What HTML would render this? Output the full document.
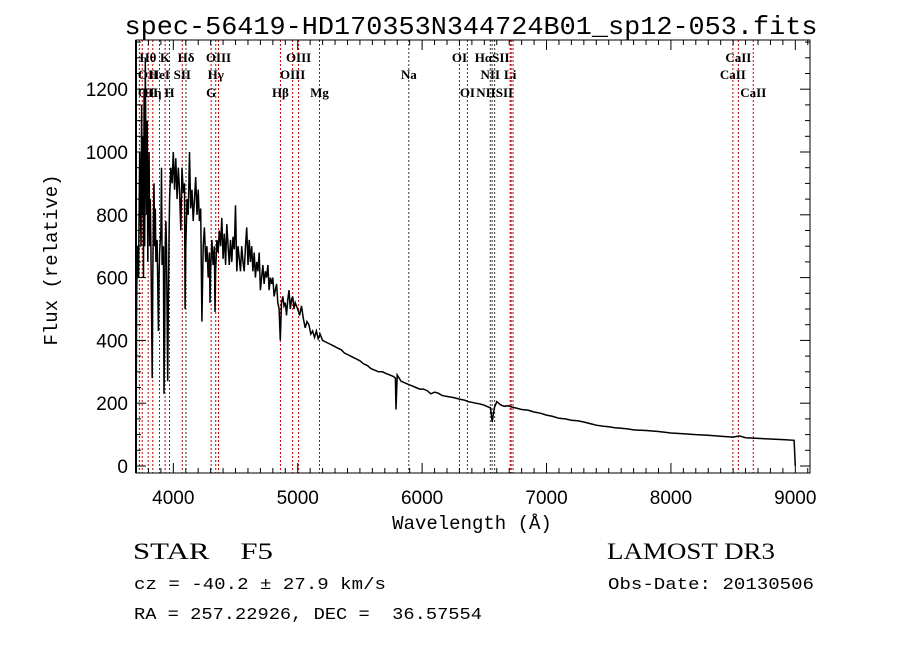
<!DOCTYPE html>
<html><head><meta charset="utf-8"><style>
html,body{margin:0;padding:0;background:#fff;width:900px;height:649px;overflow:hidden}
svg{display:block}
</style></head><body>
<svg id="chart" width="900" height="649" xmlns="http://www.w3.org/2000/svg">
<text x="471" y="34" text-anchor="middle" font-family="Liberation Mono, monospace" font-size="26" textLength="693" lengthAdjust="spacingAndGlyphs">spec-56419-HD170353N344724B01_sp12-053.fits</text>
<g id="lines"></g>
<g id="labels"></g>
<g id="spec"></g>
<g id="axes"></g>
<text x="472" y="529" text-anchor="middle" font-family="Liberation Mono, monospace" font-size="19">Wavelength (Å)</text>
<text transform="translate(57,260) rotate(-90)" text-anchor="middle" font-family="Liberation Mono, monospace" font-size="19">Flux (relative)</text>
<text x="133" y="559" font-family="Liberation Serif, serif" font-size="23" xml:space="preserve" textLength="140" lengthAdjust="spacingAndGlyphs">STAR    F5</text>
<text x="134" y="589" font-family="Liberation Mono, monospace" font-size="17" textLength="252" lengthAdjust="spacingAndGlyphs">cz = -40.2 ± 27.9 km/s</text>
<text x="134" y="619" font-family="Liberation Mono, monospace" font-size="17" xml:space="preserve" textLength="348" lengthAdjust="spacingAndGlyphs">RA = 257.22926, DEC =  36.57554</text>
<text x="607" y="559" font-family="Liberation Serif, serif" font-size="23" textLength="168" lengthAdjust="spacingAndGlyphs">LAMOST DR3</text>
<text x="608" y="589" font-family="Liberation Mono, monospace" font-size="17" textLength="206" lengthAdjust="spacingAndGlyphs">Obs-Date: 20130506</text>
</svg>
<script>
const waves=[
3700,3705,3710,3720,3730,3740,3745,3750,3755,3760,
3765,3770,3775,3780,3785,3790,3795,3800,3805,3810,
3815,3820,3830,3835,3840,3845,3850,3855,3860,3870,
3880,3885,3890,3900,3905,3910,3920,3925,3930,3935,
3940,3945,3955,3960,3965,3970,3980,3990,4000,4010,
4020,4030,4040,4050,4060,4070,4080,4090,4095,4100,
4110,4120,4130,4140,4150,4160,4170,4180,4190,4200,
4210,4220,4230,4240,4250,4260,4270,4280,4290,4295,
4300,4310,4320,4330,4335,4340,4350,4360,4370,4380,
4390,4400,4410,4420,4430,4440,4450,4460,4470,4480,
4490,4500,4510,4520,4530,4540,4550,4560,4570,4580,
4590,4600,4610,4620,4630,4640,4650,4660,4670,4680,
4690,4700,4710,4720,4730,4740,4750,4760,4770,4780,
4790,4800,4810,4820,4830,4840,4850,4860,4870,4880,
4890,4900,4910,4920,4930,4940,4950,4960,4970,4980,
5000,5015,5030,5045,5060,5075,5090,5105,5120,5135,
5150,5165,5180,5200,5225,5250,5275,5300,5325,5350,
5375,5400,5425,5450,5475,5500,5530,5560,5590,5620,
5650,5680,5710,5740,5770,5785,5790,5800,5830,5860,
5890,5920,5950,5980,6010,6040,6070,6100,6130,6160,
6190,6220,6250,6280,6310,6340,6370,6400,6430,6460,
6490,6520,6550,6563,6580,6600,6630,6660,6690,6720,
6750,6800,6850,6900,6950,7000,7050,7100,7150,7200,
7250,7300,7350,7400,7450,7500,7550,7600,7650,7700,
7800,7900,8000,8100,8200,8300,8400,8500,8550,8600,
8700,8800,8900,8990,9000];
const flux=[
0,500,700,600,1000,700,1150,800,1050,600,
1200,700,1300,950,800,1100,650,900,1000,700,
850,700,280,600,780,900,700,820,650,720,
430,600,680,750,950,640,700,230,400,700,
780,700,270,500,720,850,950,900,1000,880,
980,850,950,880,750,950,870,900,500,700,
850,800,1000,820,880,780,850,920,800,880,
780,820,460,700,760,650,700,600,680,520,
620,720,640,700,490,620,720,680,750,700,
790,660,740,640,770,700,640,720,650,730,
690,830,620,700,660,620,700,650,620,700,
760,640,720,650,700,620,680,600,650,620,
680,560,600,640,580,620,600,640,560,600,
580,600,540,560,580,520,500,400,520,540,
510,520,480,530,560,500,530,540,500,520,
500,480,510,470,440,460,450,420,430,410,
430,405,420,400,395,390,385,380,375,370,
360,355,350,345,340,335,325,320,310,305,
300,300,295,290,285,280,180,290,270,265,
260,255,250,245,245,240,230,235,232,225,
222,220,218,215,212,210,205,203,200,198,
195,190,185,140,185,205,195,190,192,188,
185,180,178,172,168,162,158,152,150,146,
144,140,135,130,127,125,122,120,118,115,
113,110,105,103,100,98,95,92,96,90,
88,86,84,82,0];
const lineWaves=[3727,3750,3798,3835,3889,3934,3969,4072,4102,4304,4341,4363,4861,4959,5007,5175,5893,6300,6364,6548,6563,6583,6708,6716,6731,8498,8542,8662];
const lineColors=['r','r','r','r','r','r','r','r','k','r','r','r','r','r','r','r','k','r','r','k','k','k','r','r','r','r','r','r'];
const labelText=['Hθ','K','Hδ','OIII','OIII','OI','HαSII','CaII','OII','HeI','SII','Hγ','OIII','Na','NII','Li','CaII','OII','Hη','H','G','Hβ','Mg','OI','NIISII','CaII'];
const labelWave=[3790,3934,4102,4363,5007,6300,6563,8542,3727,3889,4072,4341,4959,5893,6548,6708,8498,3727,3835,3969,4304,4861,5175,6364,6583,8662];
const labelRow=[0,0,0,0,0,0,0,0,1,1,1,1,1,1,1,1,1,2,2,2,2,2,2,2,2,2];
const xTicks=[4000,5000,6000,7000,8000,9000];
const yTicks=[0,200,400,600,800,1000,1200];
const L=136,R=810,T=40,B=473;
const xs=w=>L+(w-3700)*0.1244;
const ys=f=>466-f*0.314;
const NS='http://www.w3.org/2000/svg';
function mk(tag,parent,attrs){const e=document.createElementNS(NS,tag);for(const k in attrs)e.setAttribute(k,attrs[k]);parent.appendChild(e);return e;}
const gl=document.getElementById('lines');
lineWaves.forEach((w,i)=>{const x=xs(w);
 const l=mk('line',gl,{x1:x,x2:x,y1:T,y2:B,stroke:lineColors[i]==='r'?'#c00000':'#333','stroke-width':1,'stroke-dasharray':'2,2'});
 
 });
const glb=document.getElementById('labels');
const rowY=[62,79,97];
labelText.forEach((t,i)=>{let x=xs(labelWave[i]);if(x<148)x=148;
 const e=mk('text',glb,{x:x,y:rowY[labelRow[i]],'text-anchor':'middle','font-family':'Liberation Serif, serif','font-size':13,'font-weight':'bold'});
 e.textContent=t;
 
 });
const gs=document.getElementById('spec');
const n=Math.min(waves.length,flux.length);
let d='';for(let i=0;i<n;i++){d+=(i?'L':'M')+xs(waves[i]).toFixed(1)+' '+ys(flux[i]).toFixed(1);}
const p=mk('path',gs,{d:d,fill:'none',stroke:'#000','stroke-width':1.5});


const ga=document.getElementById('axes');
const fr=mk('rect',ga,{x:L,y:T,width:R-L,height:B-T,fill:'none',stroke:'#000','stroke-width':1});


mk('line',ga,{x1:L,x2:L,y1:T,y2:B,stroke:'#000','stroke-width':2});
for(let w=3700;w<=9100;w+=100){const x=xs(w);const big=w%1000===0;const len=big?10:5;
 mk('line',ga,{x1:x,x2:x,y1:B,y2:B-len,stroke:'#000'});mk('line',ga,{x1:x,x2:x,y1:T,y2:T+len,stroke:'#000'});}
for(let f=0;f<=1350;f+=50){const y=ys(f);const big=f%200===0;const len=big?10:5;
 mk('line',ga,{x1:L,x2:L+len,y1:y,y2:y,stroke:'#000'});mk('line',ga,{x1:R,x2:R-len,y1:y,y2:y,stroke:'#000'});}
xTicks.forEach(v=>{const e=mk('text',ga,{x:xs(v),y:504,'text-anchor':'middle','font-family':'Liberation Sans, sans-serif','font-size':19});
 e.textContent=v;
 
 });
yTicks.forEach(v=>{const e=mk('text',ga,{x:128,y:ys(v)+7,'text-anchor':'end','font-family':'Liberation Sans, sans-serif','font-size':19});
 e.textContent=v;
 
 });
</script>
</body></html>
